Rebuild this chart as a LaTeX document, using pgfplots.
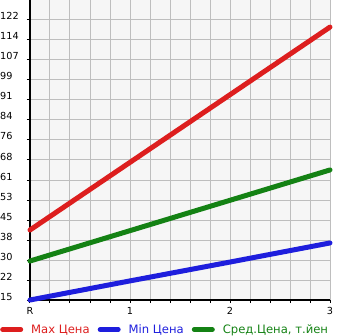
\documentclass[border=0pt]{standalone}
\usepackage{pgfplots}
\pgfplotsset{compat=1.18}
\usepackage{fontspec}
\setmainfont{DejaVu Sans}
\definecolor{cred}{RGB}{221,30,30}
\definecolor{cblue}{RGB}{30,30,221}
\definecolor{cgreen}{RGB}{20,130,20}
\definecolor{cbg}{RGB}{246,246,246}
\definecolor{cgrid}{RGB}{190,190,190}
\begin{document}
\begin{tikzpicture}
\begin{axis}[
  at={(0pt,0pt)}, anchor=south west,
  scale only axis, width=300pt, height=300pt,
  xmin=0, xmax=3, ymin=15, ymax=129.643,
  clip=false,
  axis lines=left,
  axis line style={-, line width=2pt, black},
  axis background/.style={fill=cbg},
  xtick={0,1,2,3}, xticklabels={R,1,2,3},
  minor x tick num=4,
  ytick={15,22.643,30.286,37.929,45.571,53.214,60.857,68.5,76.143,83.786,91.429,99.071,106.714,114.357,122},
  yticklabels={15,22,30,38,45,53,61,68,76,84,91,99,107,114,122},
  extra y ticks={129.643}, extra y tick labels={},
  extra y tick style={major tick length=0pt},
  grid=both,
  major grid style={cgrid, line width=1pt},
  minor grid style={cgrid, line width=1pt},
  tick align=outside,
  major tick length=3pt, minor tick length=3pt,
  tick style={black, line width=1pt},
  /pgf/number format/assume math mode=true,
  yticklabel style={font=\fontsize{9.7}{11}\selectfont, anchor=base west, inner sep=0pt, xshift=-27pt},
  xticklabel style={font=\fontsize{9.7}{11}\selectfont, anchor=north, inner sep=0pt, yshift=-4pt},
  legend columns=3,
  legend style={draw=none, fill=none, at={(axis description cs:-0.1,-0.1167)}, anchor=south west,
    inner sep=0pt, font=\fontsize{11.6}{14}\selectfont,
    nodes={inner sep=0pt},
    /tikz/every odd column/.append style={column sep=8pt},
    /tikz/every even column/.append style={column sep=8pt}},
  legend image code/.code={\draw[line width=5pt, line cap=round] (2.5pt,0pt) -- (20.5pt,0pt);},
]
\addplot[cred, line width=5pt, line cap=round] coordinates {(0,41.75) (1,67.6) (2,93.45) (3,119.3)};
\addlegendentry{\textcolor{cred}{Max Цена}}
\addplot[cblue, line width=5pt, line cap=round] coordinates {(0,15) (1,22.3) (2,29.5) (3,36.8)};
\addlegendentry{\textcolor{cblue}{Min Цена}}
\addplot[cgreen, line width=5pt, line cap=round] coordinates {(0,29.9) (1,41.5) (2,53.1) (3,64.7)};
\addlegendentry{\textcolor{cgreen}{Сред.Цена, т.йен}}
\end{axis}
\pgfresetboundingbox
\path[use as bounding box] (-30pt,-35pt) rectangle (315pt,300pt);
\end{tikzpicture}
\end{document}
